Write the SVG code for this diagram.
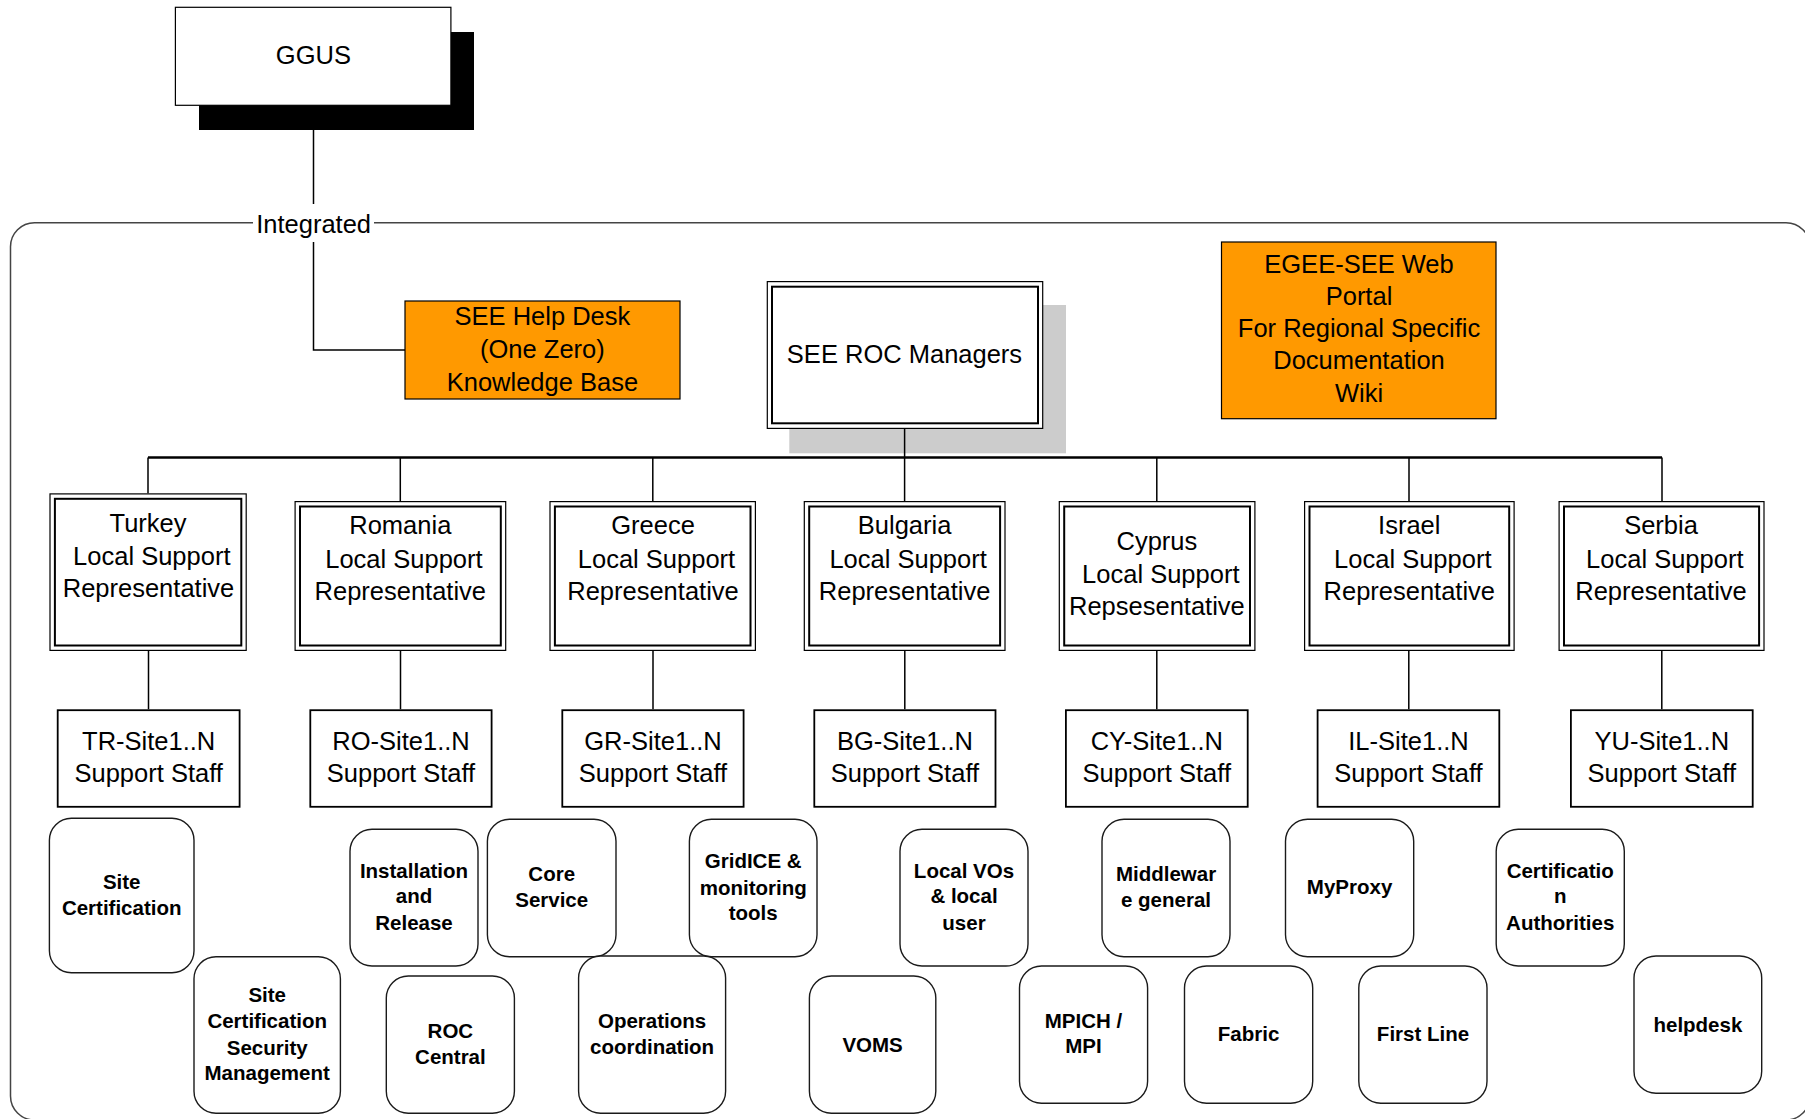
<svg xmlns="http://www.w3.org/2000/svg" width="1805" height="1119" viewBox="0 0 1805 1119">
<style>
text{font-family:"Liberation Sans",Arial,sans-serif;fill:#000;text-anchor:middle}
.t{font-size:25.5px}
.b{font-size:20.5px;font-weight:bold}
.wb{fill:#fff;stroke:#000;stroke-width:1.2}
.out{fill:#fff;stroke:#000;stroke-width:1.2}
.in{fill:none;stroke:#000;stroke-width:2}
.site{fill:#fff;stroke:#000;stroke-width:1.8}
.org{fill:#FF9900;stroke:#000;stroke-width:1.2}
.rr{fill:#fff;stroke:#1a1a1a;stroke-width:1.4}
.ln{stroke:#000;stroke-width:1.5;fill:none}
.bus{stroke:#000;stroke-width:2.5;fill:none}
</style>

<rect id="container" x="10.5" y="222.7" width="1799.5" height="897.3" rx="24" ry="24" fill="none" stroke="#444" stroke-width="1.5"/>

<g id="ggus">
<rect x="199" y="32" width="275" height="98" fill="#000"/>
<rect class="wb" x="175.4" y="7.3" width="275.5" height="98"/>
<text class="t" x="313.4" y="64">GGUS</text>
</g>

<g id="helpdesk-kb">
<rect class="org" x="405" y="301" width="275" height="98"/>
<text class="t" x="542.4" y="325">SEE Help Desk</text>
<text class="t" x="542.4" y="358">(One Zero)</text>
<text class="t" x="542.4" y="391">Knowledge Base</text>
</g>

<g id="roc-managers">
<rect x="789.3" y="305" width="276.7" height="148.3" fill="#cccccc"/>
<rect class="out" x="767.3" y="281.6" width="275.4" height="146.8"/>
<rect class="in" x="772" y="286.7" width="266" height="136.6"/>
<text class="t" x="904.5" y="362.7">SEE ROC Managers</text>
</g>

<g id="egee-portal">
<rect class="org" x="1221.5" y="242" width="274.5" height="176.7"/>
<text class="t" x="1359" y="272.7">EGEE-SEE Web</text>
<text class="t" x="1359" y="305">Portal</text>
<text class="t" x="1359" y="337.3">For Regional Specific</text>
<text class="t" x="1359" y="369.3">Documentation</text>
<text class="t" x="1359" y="401.7">Wiki</text>
</g>

<g id="turkey">
<rect class="out" x="50" y="493.9" width="196.2" height="156.5"/>
<rect class="in" x="54.9" y="498.8" width="186.4" height="146.7"/>
<text class="t" x="148" y="531.7">Turkey</text>
<text class="t" x="151.8" y="565">Local Support</text>
<text class="t" x="148.5" y="596.7">Representative</text>
</g>
<g id="romania">
<rect class="out" x="295.1" y="501.6" width="210.6" height="148.8"/>
<rect class="in" x="300" y="506.5" width="200.8" height="139"/>
<text class="t" x="400.3" y="534.3">Romania</text>
<text class="t" x="403.9" y="568.3">Local Support</text>
<text class="t" x="400.3" y="600">Representative</text>
</g>
<g id="greece">
<rect class="out" x="550" y="501.6" width="205.4" height="148.8"/>
<rect class="in" x="554.9" y="506.5" width="195.6" height="139"/>
<text class="t" x="653" y="534.3">Greece</text>
<text class="t" x="656.5" y="568.3">Local Support</text>
<text class="t" x="653" y="600">Representative</text>
</g>
<g id="bulgaria">
<rect class="out" x="804.3" y="501.6" width="200.7" height="148.8"/>
<rect class="in" x="809.2" y="506.5" width="190.9" height="139"/>
<text class="t" x="904.6" y="534.3">Bulgaria</text>
<text class="t" x="908.1" y="568.3">Local Support</text>
<text class="t" x="904.6" y="600">Representative</text>
</g>
<g id="cyprus">
<rect class="out" x="1059.3" y="501.6" width="195.6" height="148.8"/>
<rect class="in" x="1064.2" y="506.5" width="185.8" height="139"/>
<text class="t" x="1156.9" y="550">Cyprus</text>
<text class="t" x="1160.8" y="583.3">Local Support</text>
<text class="t" x="1156.9" y="615">Repsesentative</text>
</g>
<g id="israel">
<rect class="out" x="1304.6" y="501.6" width="209.5" height="148.8"/>
<rect class="in" x="1309.5" y="506.5" width="199.7" height="139"/>
<text class="t" x="1409.3" y="534.3">Israel</text>
<text class="t" x="1412.8" y="568.3">Local Support</text>
<text class="t" x="1409.3" y="600">Representative</text>
</g>
<g id="serbia">
<rect class="out" x="1559.1" y="501.6" width="204.9" height="148.8"/>
<rect class="in" x="1564" y="506.5" width="195.1" height="139"/>
<text class="t" x="1661" y="534.3">Serbia</text>
<text class="t" x="1664.8" y="568.3">Local Support</text>
<text class="t" x="1661" y="600">Representative</text>
</g>

<g id="tr-site">
<rect class="site" x="57.7" y="710.2" width="181.9" height="96.6"/>
<text class="t" x="148.7" y="750">TR-Site1..N</text>
<text class="t" x="148.7" y="781.7">Support Staff</text>
</g>
<g id="ro-site">
<rect class="site" x="310.3" y="710.2" width="181.3" height="96.6"/>
<text class="t" x="401" y="750">RO-Site1..N</text>
<text class="t" x="401" y="781.7">Support Staff</text>
</g>
<g id="gr-site">
<rect class="site" x="562.3" y="710.2" width="181.3" height="96.6"/>
<text class="t" x="653" y="750">GR-Site1..N</text>
<text class="t" x="653" y="781.7">Support Staff</text>
</g>
<g id="bg-site">
<rect class="site" x="814.3" y="710.2" width="181.2" height="96.6"/>
<text class="t" x="904.9" y="750">BG-Site1..N</text>
<text class="t" x="904.9" y="781.7">Support Staff</text>
</g>
<g id="cy-site">
<rect class="site" x="1065.9" y="710.2" width="181.8" height="96.6"/>
<text class="t" x="1156.8" y="750">CY-Site1..N</text>
<text class="t" x="1156.8" y="781.7">Support Staff</text>
</g>
<g id="il-site">
<rect class="site" x="1317.6" y="710.2" width="181.7" height="96.6"/>
<text class="t" x="1408.5" y="750">IL-Site1..N</text>
<text class="t" x="1408.5" y="781.7">Support Staff</text>
</g>
<g id="yu-site">
<rect class="site" x="1570.9" y="710.2" width="181.8" height="96.6"/>
<text class="t" x="1661.8" y="750">YU-Site1..N</text>
<text class="t" x="1661.8" y="781.7">Support Staff</text>
</g>

<g id="site-certification">
<rect class="rr" x="49.4" y="818.3" width="144.6" height="154.4" rx="22"/>
<text class="b" x="121.7" y="889">Site</text>
<text class="b" x="121.7" y="915">Certification</text>
</g>
<g id="site-cert-security">
<rect class="rr" x="194" y="956.7" width="146.4" height="156.6" rx="22"/>
<text class="b" x="267.2" y="1001.7">Site</text>
<text class="b" x="267.2" y="1028.3">Certification</text>
<text class="b" x="267.2" y="1055">Security</text>
<text class="b" x="267.2" y="1080.3">Management</text>
</g>
<g id="installation-release">
<rect class="rr" x="350" y="829.3" width="128" height="136.7" rx="22"/>
<text class="b" x="414" y="878.3">Installation</text>
<text class="b" x="414" y="903.3">and</text>
<text class="b" x="414" y="930">Release</text>
</g>
<g id="core-service">
<rect class="rr" x="487.4" y="819.3" width="128.6" height="137.4" rx="22"/>
<text class="b" x="551.7" y="881">Core</text>
<text class="b" x="551.7" y="906.7">Service</text>
</g>
<g id="gridice">
<rect class="rr" x="689.4" y="819.3" width="127.6" height="137.4" rx="22"/>
<text class="b" x="753.2" y="868.3">GridICE &amp;</text>
<text class="b" x="753.2" y="895">monitoring</text>
<text class="b" x="753.2" y="920">tools</text>
</g>
<g id="roc-central">
<rect class="rr" x="386.3" y="976" width="128.1" height="137.3" rx="22"/>
<text class="b" x="450.4" y="1037.7">ROC</text>
<text class="b" x="450.4" y="1064.3">Central</text>
</g>
<g id="operations">
<rect class="rr" x="578.6" y="956" width="147" height="157.3" rx="22"/>
<text class="b" x="652.1" y="1028.3">Operations</text>
<text class="b" x="652.1" y="1054">coordination</text>
</g>
<g id="voms">
<rect class="rr" x="809.4" y="976" width="126.4" height="137.3" rx="22"/>
<text class="b" x="872.6" y="1051.7">VOMS</text>
</g>
<g id="local-vos">
<rect class="rr" x="900" y="829.3" width="128" height="136.7" rx="22"/>
<text class="b" x="964" y="877.7">Local VOs</text>
<text class="b" x="964" y="903.3">&amp; local</text>
<text class="b" x="964" y="930">user</text>
</g>
<g id="middleware">
<rect class="rr" x="1102" y="819.3" width="128" height="137.4" rx="22"/>
<text class="b" x="1166" y="881">Middlewar</text>
<text class="b" x="1166" y="906.7">e general</text>
</g>
<g id="myproxy">
<rect class="rr" x="1285.5" y="819.3" width="128.2" height="137.4" rx="22"/>
<text class="b" x="1349.6" y="894.3">MyProxy</text>
</g>
<g id="cert-authorities">
<rect class="rr" x="1496.2" y="829.3" width="128.1" height="136.7" rx="22"/>
<text class="b" x="1560.2" y="877.7">Certificatio</text>
<text class="b" x="1560.2" y="903.3">n</text>
<text class="b" x="1560.2" y="930">Authorities</text>
</g>
<g id="mpich">
<rect class="rr" x="1019.5" y="966" width="128.1" height="137.3" rx="22"/>
<text class="b" x="1083.5" y="1028.3">MPICH /</text>
<text class="b" x="1083.5" y="1053.3">MPI</text>
</g>
<g id="fabric">
<rect class="rr" x="1184.5" y="966" width="128.2" height="137.3" rx="22"/>
<text class="b" x="1248.6" y="1040.7">Fabric</text>
</g>
<g id="first-line">
<rect class="rr" x="1358.8" y="966" width="128.2" height="137.3" rx="22"/>
<text class="b" x="1423" y="1040.7">First Line</text>
</g>
<g id="helpdesk">
<rect class="rr" x="1634" y="956" width="127.7" height="137.3" rx="22"/>
<text class="b" x="1697.9" y="1031.7">helpdesk</text>
</g>

<g id="connectors">
<path class="ln" d="M313.5 130 V350 H405"/>
<rect x="253" y="204" width="121" height="38" fill="#fff"/>
<text class="t" x="313.6" y="232.7">Integrated</text>
<path class="ln" d="M904.6 429 V457.5"/>
<path class="bus" d="M148 457.5 H1662"/>
<path class="ln" d="M148 457.5 V493.3 M400.3 457.5 V501 M652.8 457.5 V501 M904.6 457.5 V501 M1156.8 457.5 V501 M1409 457.5 V501 M1662 457.5 V501"/>
<path class="ln" d="M148.5 651 V709.3 M400.5 651 V709.3 M653 651 V709.3 M904.8 651 V709.3 M1156.8 651 V709.3 M1408.8 651 V709.3 M1661.8 651 V709.3"/>
</g>
</svg>
